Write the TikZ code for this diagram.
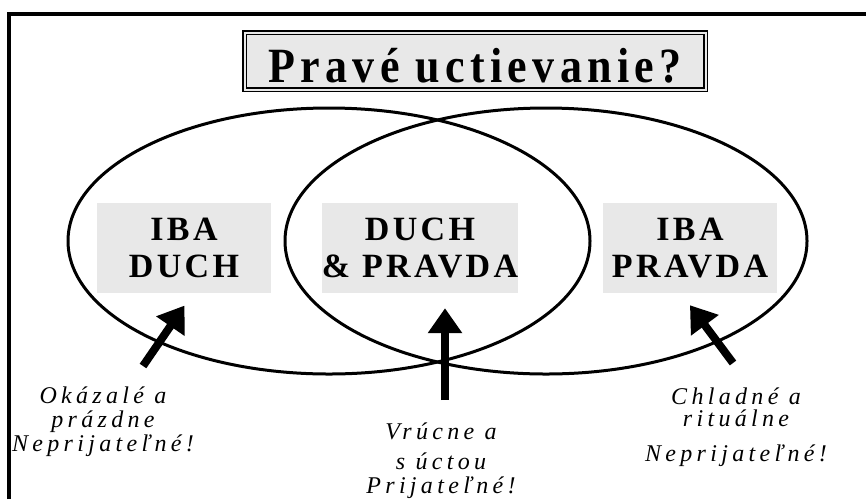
\documentclass[tikz,border=0pt]{standalone}
\usepackage{fontspec}
\setmainfont{Liberation Serif}
\newfontfamily\titlefont[LetterSpace=12]{Liberation Serif}
\newfontfamily\boxfont[LetterSpace=10]{Liberation Serif}
\newfontfamily\notefont[LetterSpace=18]{Liberation Serif}
\usetikzlibrary{arrows.meta}
\definecolor{boxgray}{RGB}{232,232,232}
\tikzset{
  >=latex,
  frame line/.style={line width=4pt},
  ring/.style={line width=3pt},
  title box/.style={draw,double=boxgray,double distance=2pt,line width=1.2pt,fill=boxgray,
    minimum width=461pt,minimum height=57pt,inner sep=0,text height=42pt,text depth=0pt,
    font=\titlefont\bfseries\fontsize{44}{50}\selectfont},
  way box/.style={fill=boxgray,minimum width=174pt,minimum height=90pt,inner sep=0,align=center,
    font=\boxfont\bfseries\fontsize{34}{37}\selectfont},
  note/.style={align=center,anchor=north,inner sep=0,font=\notefont\itshape\fontsize{24}{24}\selectfont},
  big arrow/.style={-{Triangle[length=25pt,width=33pt]},line width=8pt,shorten >=15pt}
}

\begin{document}
\begin{tikzpicture}[x=1pt,y=-1pt]
  \useasboundingbox (0,0) rectangle (866,499);

  \draw[frame line] (9,499) -- (9,14) -- (866,14);

  \node[title box] (title) at (475,61) {\scalebox{1}[1.12]{Pravé uctievanie?}};

  \draw[ring] (329,241) ellipse [x radius=261, y radius=133];
  \draw[ring] (546,241) ellipse [x radius=261, y radius=133];

  \node[way box] (spirit) at (184,248) {IBA\\DUCH};
  \node[way box] (both) at (420,248) {DUCH\\\& PRAVDA};
  \node[way box] (truth) at (690,248) {IBA\\PRAVDA};

  \node[note] (showy) at (103,387) {Okázalé a\\prázdne\\Neprijateľné!};
  \node[note] (warm) at (441,423) {Vrúcne a\\[6pt]s úctou\\Prijateľné!};
  \node[note] (cold) at (736,388) {Chladné a\\[-2pt]rituálne\\[11pt]Neprijateľné!};

  \coordinate (showy tail) at (143,366);
  \coordinate (warm tail) at (445,400);
  \coordinate (cold tail) at (733,363);

  \draw[big arrow] (showy tail) -- ([xshift=9pt]spirit.south);
  \draw[big arrow] (warm tail) -- (warm tail |- both.south);
  \draw[big arrow] (cold tail) -- ([xshift=-9pt]truth.south);
\end{tikzpicture}
\end{document}
